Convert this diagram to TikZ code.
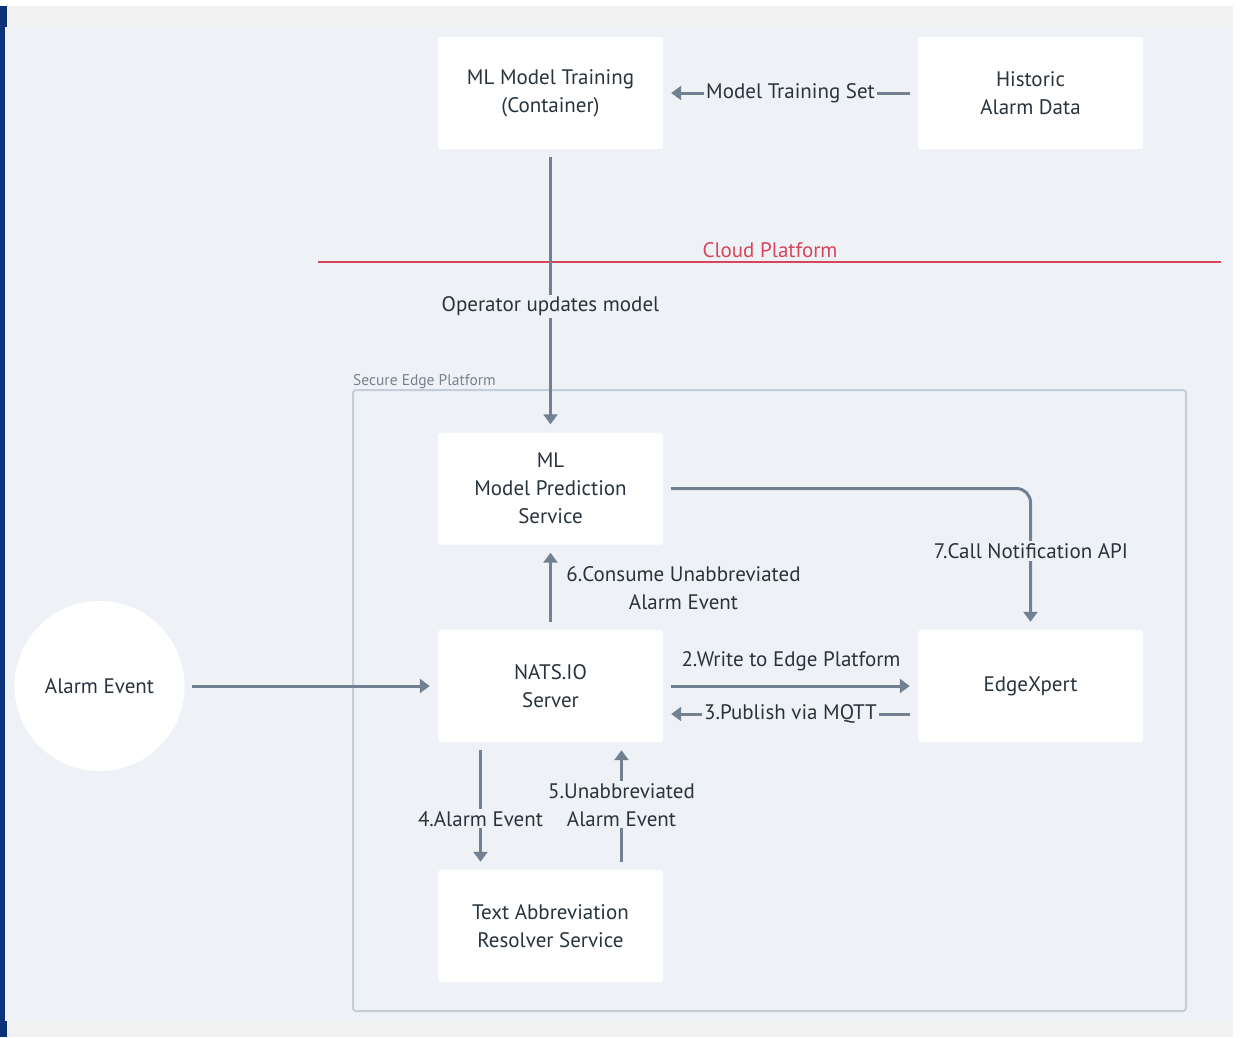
\documentclass[tikz,border=0pt]{standalone}
\usepackage{fontspec}
\setmainfont{PT Sans}
\usetikzlibrary{arrows.meta}
\definecolor{bgblue}{HTML}{EEF2F6}
\definecolor{stripgray}{HTML}{F1F1F1}
\definecolor{navy}{HTML}{0C3279}
\definecolor{arrcol}{HTML}{718191}
\definecolor{txtcol}{HTML}{29333D}
\definecolor{cloudred}{HTML}{D6455B}
\definecolor{contcol}{HTML}{C3CEDA}
\definecolor{contlbl}{HTML}{76818D}
\tikzset{
  boxnode/.style={fill=white, rounded corners=3pt, minimum width=225pt, minimum height=112pt,
    align=center, text=txtcol, font=\fontsize{21}{28}\selectfont, inner sep=0pt},
  flow/.style={draw=arrcol, line width=3pt, -{Triangle[length=10pt,width=14pt]},
    shorten <=8pt, shorten >=8pt},
  lbl/.style={fill=bgblue, text=txtcol, font=\fontsize{21}{28}\selectfont, align=center,
    inner sep=2pt},
  lblplain/.style={text=txtcol, font=\fontsize{21}{28}\selectfont, align=center, inner sep=0pt}
}
\begin{document}
\begin{tikzpicture}[x=1pt,y=-1pt]
\useasboundingbox (0,0) rectangle (1240,1037);
\fill[white] (0,0) rectangle (1240,1037);
\fill[stripgray] (7,6) rectangle (1233,27);
\fill[stripgray] (7,1021) rectangle (1233,1037);
\fill[bgblue] (5,27) rectangle (1233,1021);
\fill[navy] (0,6) rectangle (7,27);
\fill[navy] (0,27) rectangle (5,1021);
\fill[navy] (0,1021) rectangle (7,1037);

% secure edge platform container
\node[draw=contcol, line width=2pt, rounded corners=3pt, minimum width=833pt, minimum height=621pt, inner sep=0pt]
  (edgeplat) at (769.5,700.5) {};
\node[anchor=south west, text=contlbl, font=\fontsize{15.5}{17}\selectfont, inner sep=0pt]
  (edgeplatlbl) at (353,388.5) {Secure Edge Platform};

% cloud platform line
\coordinate (cloudL) at (318,262);
\coordinate (cloudR) at (1221,262);
\draw[cloudred, line width=1.6pt] (cloudL) -- (cloudR);
\node[text=cloudred, font=\fontsize{21}{22}\selectfont, inner sep=0pt] (cloudlbl) at (770,250) {Cloud Platform};

% boxes
\node[boxnode] (train) at (550.5,93) {ML Model Training\\(Container)};
\node[boxnode] (hist) at (1030.5,93) {Historic\\Alarm Data};
\node[boxnode] (pred) at (550.5,488.5) {ML\\Model Prediction\\Service};
\node[boxnode] (nats) at (550.5,686) {NATS.IO\\Server};
\node[boxnode] (edgex) at (1030.5,686) {EdgeXpert};
\node[boxnode] (tars) at (550.5,926) {Text Abbreviation\\Resolver Service};
\node[circle, fill=white, minimum size=170pt, inner sep=0pt, text=txtcol, font=\fontsize{21}{28}\selectfont]
  (alarm) at (99.5,686) {Alarm Event};

% connectors
\draw[flow] (hist.west) -- node[lbl] {Model Training Set} (train.east);
\draw[flow] (train.south) -- node[lbl, pos=0.555] {Operator updates model} (pred.north);
\draw[flow, rounded corners=14pt] (pred.east) -| (edgex.north);
\node[lbl] (l7) at (1031,551) {7.Call Notification API};
\draw[flow] (nats.north) -- (pred.south);
\node[lblplain] (l6) at (683.5,588) {6.Consume Unabbreviated\\Alarm Event};
\draw[flow, shorten <=7pt] (alarm.east) -- (nats.west);
\draw[flow] (nats.east) -- (edgex.west);
\node[lblplain] (l2) at (791,661) {2.Write to Edge Platform};
\draw[flow] ([yshift=-28pt]edgex.west) -- node[lbl] {3.Publish via MQTT} ([yshift=-28pt]nats.east);
\draw[flow] ([xshift=-70pt]nats.south) -- node[lbl, pos=0.6] {4.Alarm Event} ([xshift=-70pt]tars.north);
\draw[flow] ([xshift=71pt]tars.north) -- node[lbl, pos=0.51] {5.Unabbreviated\\Alarm Event} ([xshift=71pt]nats.south);
\end{tikzpicture}
\end{document}
